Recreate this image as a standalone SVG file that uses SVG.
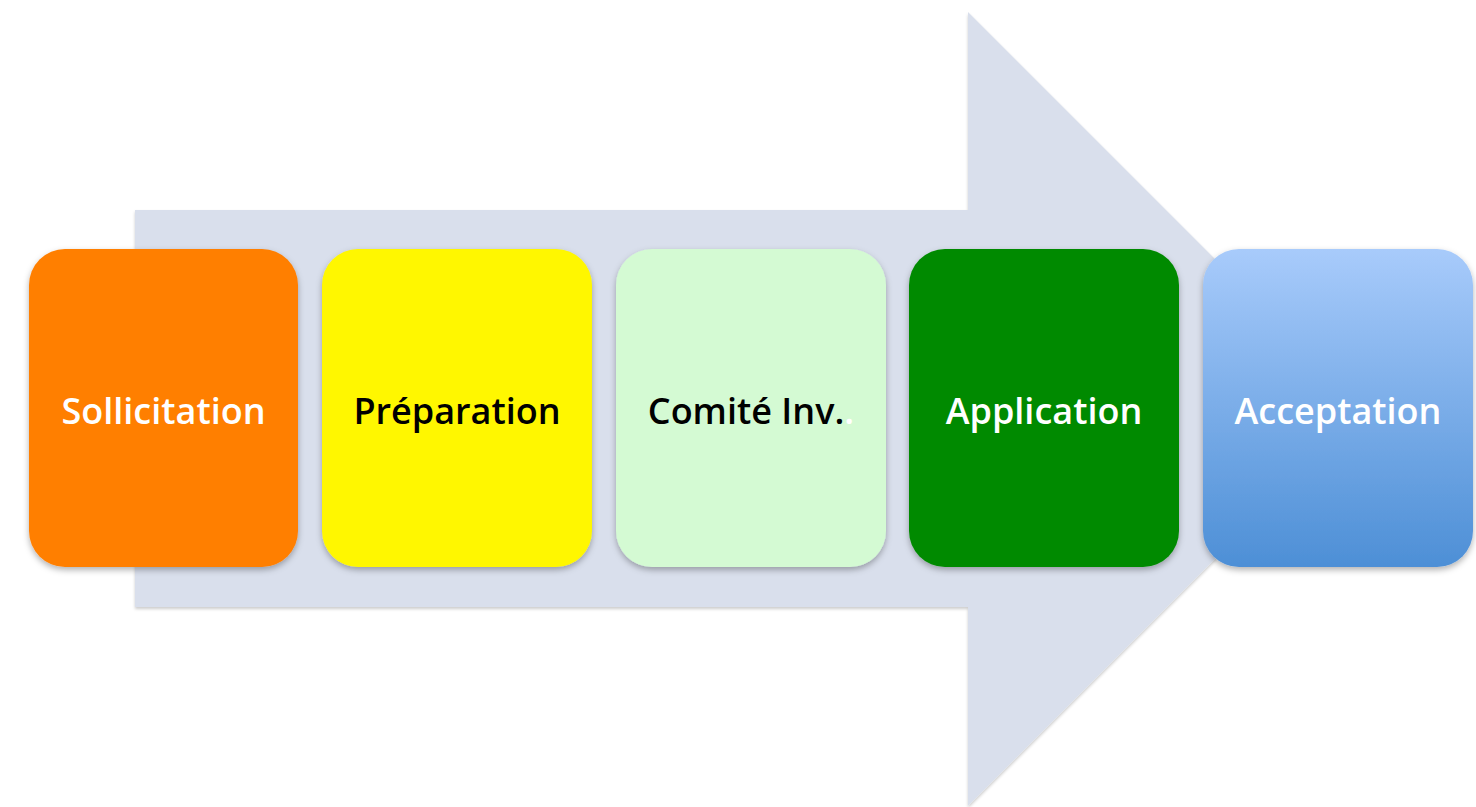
<svg xmlns="http://www.w3.org/2000/svg" width="1476" height="807" viewBox="0 0 1476 807">
<defs>
<linearGradient id="blueGrad" x1="0" y1="0" x2="0" y2="1">
<stop offset="0" stop-color="#a8cbfb"/>
<stop offset="1" stop-color="#4d8fd6"/>
</linearGradient>
<filter id="shadow" x="-10%" y="-10%" width="120%" height="125%">
<feDropShadow dx="0" dy="3" stdDeviation="3" flood-color="#000" flood-opacity="0.3"/>
</filter>
<filter id="ashadow" x="-5%" y="-5%" width="110%" height="110%">
<feDropShadow dx="0" dy="2" stdDeviation="1.5" flood-color="#000" flood-opacity="0.2"/>
</filter>
</defs>
<style>
.box { filter: url(#shadow); }
.lbl { font-family: "Open Sans", "Liberation Sans", sans-serif; font-size: 36px; font-weight: 600; text-anchor: middle; }
.w { fill: #ffffff; }
.k { fill: #000000; }
</style>
<rect width="1476" height="807" fill="#ffffff"/>
<g id="arrow">
<path d="M135,210 L968,210 L968,12 L1365,409 L968,806 L968,607 L135,607 Z" fill="#d9dfec" filter="url(#ashadow)"/>
</g>
<g id="node-sollicitation">
<rect class="box" x="29" y="249" width="269" height="318" rx="36" fill="#ff7f00"/>
<text class="lbl w" x="163.5" y="424">Sollicitation</text>
</g>
<g id="node-preparation">
<rect class="box" x="322" y="249" width="270" height="318" rx="36" fill="#fff700"/>
<text class="lbl k" x="457" y="424">Préparation</text>
</g>
<g id="node-comite">
<rect class="box" x="616" y="249" width="270" height="318" rx="36" fill="#d4fad3"/>
<text class="lbl k" x="751" y="424">Comité Inv.<tspan class="w">.</tspan></text>
</g>
<g id="node-application">
<rect class="box" x="909" y="249" width="270" height="318" rx="36" fill="#008a00"/>
<text class="lbl w" x="1044" y="424">Application</text>
</g>
<g id="node-acceptation">
<rect class="box" x="1203" y="249" width="270" height="318" rx="36" fill="url(#blueGrad)"/>
<text class="lbl w" x="1338" y="424">Acceptation</text>
</g>
<g id="connectors"></g>
</svg>
